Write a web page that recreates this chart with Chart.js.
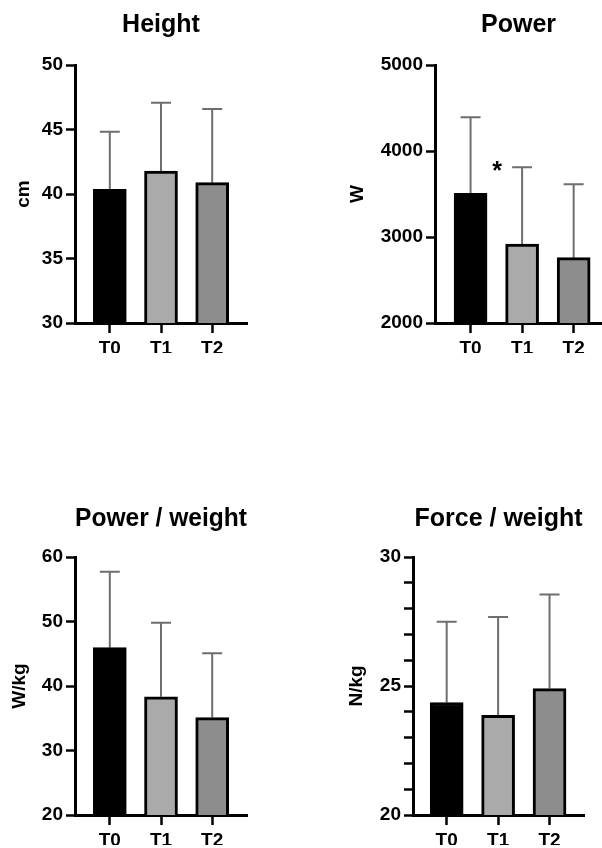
<!DOCTYPE html>
<html>
<head>
<meta charset="utf-8">
<script src="https://cdn.jsdelivr.net/npm/chart.js@4.4.1/dist/chart.umd.min.js"></script>
<style>
  body { margin: 0; background: #fff; width: 602px; height: 848px; position: relative; overflow: hidden; }
  canvas { position: absolute; }
</style>
</head>
<body>
<canvas id="chart1" width="301" height="424" style="left:0;top:0"></canvas>
<canvas id="chart2" width="301" height="424" style="left:301px;top:0"></canvas>
<canvas id="chart3" width="301" height="424" style="left:0;top:424px"></canvas>
<canvas id="chart4" width="301" height="424" style="left:301px;top:424px"></canvas>
<script>
// data (mean + SD, one value per timepoint)
const timepoints = ['T0', 'T1', 'T2'];

const heightMean = [40.36, 41.78, 40.88];
const heightSD = [4.47, 5.30, 5.71];
const heightTicks = [30, 35, 40, 45, 50];

const powerMean = [3508, 2919, 2760];
const powerSD = [884, 891, 853];
const powerSig = ['', '*', ''];
const powerTicks = [2000, 3000, 4000, 5000];

const pwMean = [45.94, 38.34, 35.10];
const pwSD = [11.79, 11.48, 9.96];
const pwTicks = [20, 30, 40, 50, 60];

const fwMean = [24.36, 23.86, 24.90];
const fwSD = [3.13, 3.81, 3.65];
const fwTicks = [20, 25, 30];

const barColors = ['#000000', '#aaaaab', '#8d8d8d'];
const fontFamily = "'Liberation Sans', Arial, Helvetica, sans-serif";

Chart.defaults.color = '#000';
Chart.defaults.font.family = fontFamily;

function drawPanel(id, o) {
    // SD whiskers (upper only) + significance mark, drawn behind the bars
    const errorBars = {
        id: 'errorBars_' + id,
        beforeDatasetsDraw(chart) {
            const ctx = chart.ctx;
            const x = chart.scales.x, y = chart.scales.y;
            ctx.save();
            ctx.strokeStyle = '#6e6e6e';
            ctx.lineWidth = 2;
            o.mean.forEach(function(m, i) {
                const px = x.getPixelForValue(i);
                const base = y.getPixelForValue(m);
                const top = y.getPixelForValue(m + o.sd[i]);
                ctx.beginPath();
                ctx.moveTo(px, base);
                ctx.lineTo(px, top);
                ctx.moveTo(px - 10, top);
                ctx.lineTo(px + 10, top);
                ctx.stroke();
                if (o.sig && o.sig[i]) {
                    ctx.fillStyle = '#000';
                    ctx.font = 'bold 25px ' + fontFamily;
                    ctx.textAlign = 'center';
                    ctx.textBaseline = 'middle';
                    ctx.fillText(o.sig[i], px - 25, top + 5);
                }
            });
            ctx.restore();
        }
    };

    const ticks = o.ticks;
    new Chart(document.getElementById(id), {
        type: 'bar',
        data: {
            datasets: [{
                data: o.mean.map(function(v, i) { return {x: i, y: v}; }),
                backgroundColor: barColors,
                borderColor: '#000',
                borderWidth: 3,
                borderSkipped: 'bottom',
                barThickness: 33
            }]
        },
        options: {
            responsive: false,
            animation: false,
            layout: {
                padding: {left: 0, right: o.padRight, top: 0, bottom: o.padBottom}
            },
            plugins: {
                legend: {display: false},
                tooltip: {enabled: false},
                title: {
                    display: true,
                    fullSize: false,
                    text: o.title,
                    font: {size: 25, weight: 'bold'},
                    padding: {top: o.titleTop, bottom: o.titleBottom}
                }
            },
            scales: {
                x: {
                    type: 'linear',
                    min: o.xMin,
                    max: o.xMax,
                    offset: false,
                    afterBuildTicks: function(s) {
                        s.ticks = timepoints.map(function(t, i) { return {value: i}; });
                    },
                    afterFit: function(s) { s.height = 30; },
                    ticks: {
                        callback: function(v) { return timepoints[v]; },
                        font: {size: 19, weight: 'bold'},
                        color: '#000',
                        padding: 4,
                        maxRotation: 0
                    },
                    grid: {
                        drawOnChartArea: false,
                        offset: false,
                        tickLength: 10,
                        tickWidth: 2.5,
                        tickColor: '#000'
                    },
                    border: {color: '#000', width: 3}
                },
                y: {
                    min: ticks[0],
                    max: ticks[ticks.length - 1],
                    afterFit: function(s) { s.width = o.areaLeft; },
                    ticks: {
                        stepSize: o.step,
                        callback: function(v) { return ticks.includes(v) ? String(v) : ''; },
                        font: {size: 19, weight: 'bold'},
                        color: '#000',
                        padding: 3
                    },
                    grid: {
                        drawOnChartArea: false,
                        tickLength: 9,
                        tickWidth: 2.5,
                        tickColor: '#000'
                    },
                    border: {color: '#000', width: 3},
                    title: {
                        display: true,
                        text: o.unit,
                        font: {size: 19, weight: 'bold'},
                        padding: {top: o.unitPad, bottom: 0}
                    }
                }
            }
        },
        plugins: [errorBars]
    });
}

drawPanel('chart1', {
    title: 'Height', unit: 'cm', mean: heightMean, sd: heightSD, ticks: heightTicks, step: 5,
    xMin: -0.68, xMax: 2.68, areaLeft: 75, padRight: 54, padBottom: 71,
    titleTop: 10.5, titleBottom: 24.5, unitPad: 12
});
drawPanel('chart2', {
    title: 'Power', unit: 'W', mean: powerMean, sd: powerSD, sig: powerSig, ticks: powerTicks, step: 1000,
    xMin: -0.69, xMax: 2.55, areaLeft: 134, padRight: 0, padBottom: 71,
    titleTop: 10.5, titleBottom: 24.5, unitPad: 45.6
});
drawPanel('chart3', {
    title: 'Power / weight', unit: 'W/kg', mean: pwMean, sd: pwSD, ticks: pwTicks, step: 10,
    xMin: -0.68, xMax: 2.68, areaLeft: 75, padRight: 54, padBottom: 3,
    titleTop: 80, titleBottom: 23, unitPad: 8.6
});
drawPanel('chart4', {
    title: 'Force / weight', unit: 'N/kg', mean: fwMean, sd: fwSD, ticks: fwTicks, step: 1,
    xMin: -0.655, xMax: 2.67, areaLeft: 112, padRight: 18, padBottom: 3,
    titleTop: 80, titleBottom: 23, unitPad: 44.6
});
</script>
</body>
</html>
